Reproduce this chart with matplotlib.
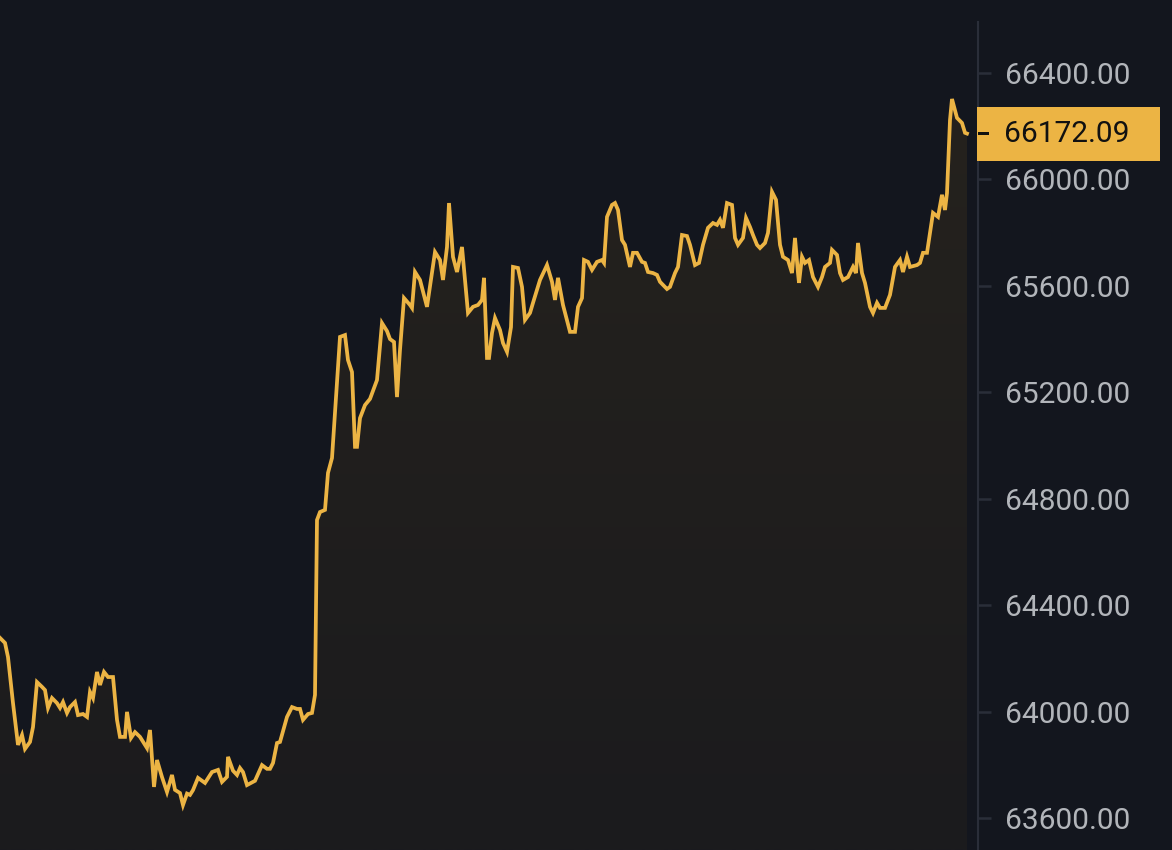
#!/usr/bin/env python3
"""
Dark price chart: last-price line with shaded area and a right-hand price scale
"""

import numpy as np
import matplotlib
matplotlib.use("Agg")
import matplotlib.pyplot as plt
from matplotlib.patches import Rectangle
from matplotlib.transforms import IdentityTransform

# --- data -------------------------------------------------------------------
t = [0, 5, 8, 13, 18, 22, 25, 30, 33, 37, 42, 45, 48, 52, 57, 60, 63, 67, 70, 75,
     78, 83, 87, 90, 93, 97, 100, 104, 108, 113, 117, 120, 125, 127, 131, 135, 140,
     147, 150, 154, 157, 162, 167, 172, 175, 180, 183, 187, 190, 193, 198, 205, 212,
     218, 222, 227, 228, 233, 237, 240, 243, 247, 255, 262, 267, 270, 273, 277, 280,
     287, 292, 297, 300, 303, 308, 312, 315, 317, 320, 325, 328, 332, 340, 345, 348,
     352, 355, 357, 360, 365, 370, 377, 382, 387, 390, 394, 397, 400, 404, 410, 412,
     415, 420, 427, 435, 440, 443, 447, 449, 453, 457, 462, 468, 473, 478, 482, 484,
     487, 489, 492, 495, 500, 503, 507, 511, 513, 518, 522, 525, 530, 533, 540, 547,
     552, 555, 558, 563, 570, 575, 578, 582, 584, 588, 592, 597, 602, 604, 607, 612,
     615, 618, 622, 625, 630, 633, 637, 642, 645, 648, 653, 657, 660, 667, 670, 675,
     678, 682, 687, 690, 695, 699, 703, 708, 713, 717, 720, 723, 727, 732, 735, 738,
     743, 746, 750, 753, 757, 760, 765, 768, 772, 776, 780, 783, 788, 792, 795, 798,
     799, 802, 805, 809, 813, 818, 822, 825, 830, 832, 837, 840, 843, 848, 853, 856,
     858, 862, 865, 870, 873, 877, 880, 885, 890, 895, 900, 903, 907, 910, 917, 920,
     923, 927, 930, 933, 938, 942, 945, 947, 950, 952, 957, 962, 965, 967]

price = [64277, 64258, 64205, 64032, 63875, 63912, 63860, 63886, 63942, 64111,
         64093, 64081, 64014, 64051, 64032, 64014, 64036, 63995, 64017, 64036,
         63987, 63991, 63980, 64074, 64051, 64149, 64100, 64149, 64130, 64130,
         63969, 63905, 63905, 63999, 63901, 63923, 63905, 63863, 63931, 63717,
         63818, 63754, 63698, 63762, 63706, 63694, 63649, 63692, 63687, 63705,
         63751, 63732, 63773, 63781, 63736, 63755, 63830, 63778, 63762, 63788,
         63773, 63724, 63740, 63799, 63785, 63785, 63807, 63882, 63886, 63980,
         64017, 64010, 64010, 63969, 63991, 63995, 64063, 64720, 64750, 64758,
         64897, 64953, 65408, 65415, 65321, 65276, 64995, 64995, 65103, 65152,
         65175, 65246, 65460, 65430, 65400, 65389, 65182, 65359, 65554, 65528,
         65517, 65652, 65622, 65521, 65727, 65697, 65622, 65746, 65911, 65709,
         65652, 65746, 65498, 65521, 65528, 65547, 65630, 65329, 65329, 65423,
         65479, 65434, 65385, 65352, 65445, 65671, 65667, 65596, 65472, 65498,
         65536, 65622, 65678, 65615, 65547, 65630, 65528, 65427, 65427, 65521,
         65554, 65697, 65690, 65660, 65690, 65697, 65686, 65859, 65904, 65911,
         65885, 65772, 65754, 65671, 65724, 65724, 65690, 65686, 65652, 65648,
         65641, 65615, 65588, 65596, 65648, 65671, 65791, 65787, 65754, 65678,
         65686, 65754, 65818, 65836, 65829, 65848, 65818, 65911, 65904, 65780,
         65754, 65780, 65855, 65821, 65791, 65754, 65742, 65761, 65799, 65953,
         65923, 65754, 65709, 65697, 65648, 65780, 65648, 65611, 65709, 65686,
         65697, 65633, 65596, 65633, 65671, 65686, 65735, 65716, 65648, 65622,
         65633, 65671, 65648, 65761, 65648, 65611, 65521, 65498, 65536, 65517,
         65517, 65566, 65671, 65697, 65652, 65709, 65671, 65678, 65686, 65724,
         65724, 65799, 65874, 65859, 65942, 65885, 65949, 66223, 66302, 66231,
         66212, 66175, 66172.09]

yticks = [63600, 64000, 64400, 64800, 65200, 65600, 66000, 66400]

# --- colours ---------------------------------------------------------------
BG = "#13161e"
LINE = "#ecb444"
AXIS = "#2a2e39"
LABEL = "#b2b5ba"
FILL_TOP = "#25221d"
FILL_BOT = "#1b1b1e"

W, H = 1172, 850


def main():
    fig = plt.figure(figsize=(W / 100, H / 100), dpi=100, facecolor=BG)
    ax = fig.add_axes([0, 0, 978 / W, 1])
    ax.set_facecolor(BG)
    ax.set_xlim(0, 978)
    ax.set_ylim(63480, 66674)

    # shaded area under the line, with a faint vertical gradient
    ymin = ax.get_ylim()[0]
    poly = ax.fill_between(t, price, ymin, color="none", lw=0)
    grad = np.linspace(1, 0, 256).reshape(-1, 1)
    cmap = matplotlib.colors.LinearSegmentedColormap.from_list("g", [FILL_BOT, FILL_TOP])
    im = ax.imshow(grad, cmap=cmap, aspect="auto", origin="upper",
                   extent=[t[0], t[-1], ymin, max(price)], zorder=1)
    im.set_clip_path(poly.get_paths()[0], transform=ax.transData)
    ax.set_xlim(0, 978)
    ax.set_ylim(63480, 66674)

    ax.plot(t, price, color=LINE, lw=2.7, solid_joinstyle="miter", zorder=3)

    # right price scale
    for s in ["top", "left", "bottom"]:
        ax.spines[s].set_visible(False)
    ax.spines["right"].set_color(AXIS)
    ax.spines["right"].set_linewidth(1.5)
    ax.spines["right"].set_bounds(63480, 66591)
    ax.set_xticks([])
    ax.yaxis.tick_right()
    ax.set_yticks(yticks)
    ax.set_yticklabels([f"{v:.2f}" for v in yticks])
    ax.tick_params(axis="y", length=9.5, width=1.8, color=AXIS, pad=10,
                   labelsize=21.5, labelcolor=LABEL)
    for lab in ax.get_yticklabels():
        lab.set_fontfamily("Roboto")
        lab.set_fontweight("normal")

    # last price badge
    fig.canvas.draw()
    last = price[-1]
    yc = ax.transData.transform((0, last))[1]
    fig.add_artist(Rectangle((977, yc - 27), 183, 54, transform=IdentityTransform(),
                             facecolor=LINE, edgecolor="none", zorder=5))
    fig.add_artist(Rectangle((978, yc - 1.5), 11, 3, transform=IdentityTransform(),
                             facecolor="#111111", edgecolor="none", zorder=6))
    fig.text(1004 / W, yc / H, f"{last:.2f}", color="#111111", fontsize=21.5,
             family="Roboto", weight="normal", va="center", ha="left", zorder=7)

    fig.savefig("out.png", dpi=100, facecolor=BG)


if __name__ == "__main__":
    main()
